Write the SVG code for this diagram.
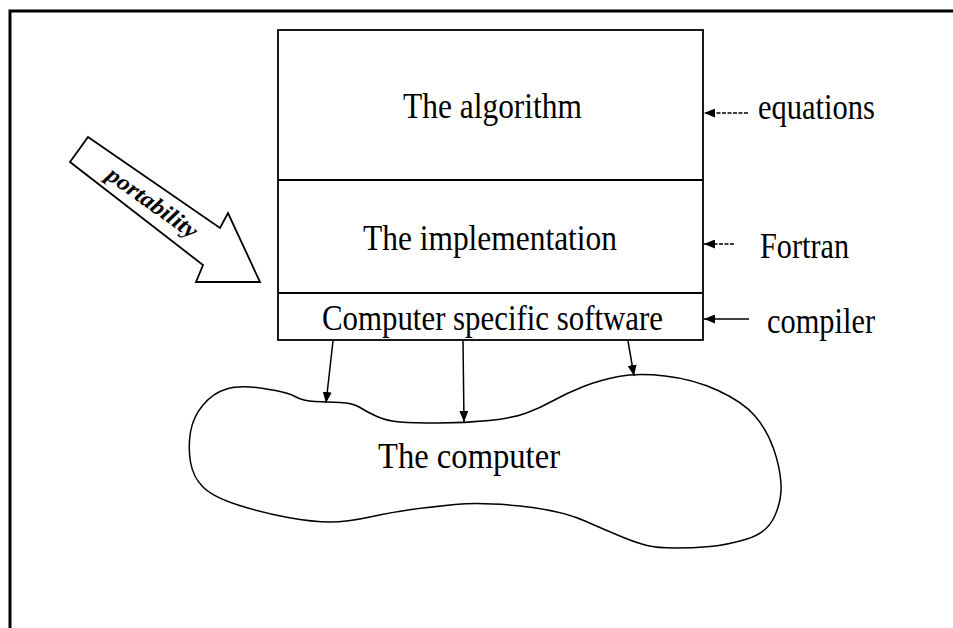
<svg xmlns="http://www.w3.org/2000/svg" width="953" height="628" viewBox="0 0 953 628">
<style>
.t{font-family:"Liberation Serif","Times New Roman",serif;font-size:36px;fill:#000}
.ln{stroke:#000;stroke-width:1.5;fill:none}
.box{stroke:#000;stroke-width:1.8;fill:none}
</style>
<defs>
<marker id="ah" markerUnits="userSpaceOnUse" markerWidth="11" markerHeight="9" refX="11" refY="4.5" orient="auto">
<path d="M0,0 L11,4.5 L0,9 z" fill="#000"/>
</marker>
</defs>
<rect width="953" height="628" fill="#fff"/>
<g id="frame">
<path d="M10,628 L10,11 L953,11" stroke="#000" stroke-width="3" fill="none"/>
</g>
<g id="stack">
<rect x="278" y="30" width="425" height="310" class="box"/>
<line x1="278" y1="180" x2="703" y2="180" class="box"/>
<line x1="278" y1="293" x2="703" y2="293" class="box"/>
</g>
<g id="algorithm"><text class="t" x="403" y="118" textLength="179" lengthAdjust="spacingAndGlyphs">The algorithm</text></g>
<g id="implementation"><text class="t" x="363" y="250" textLength="254" lengthAdjust="spacingAndGlyphs">The implementation</text></g>
<g id="software"><text class="t" x="322" y="330" textLength="341" lengthAdjust="spacingAndGlyphs">Computer specific software</text></g>
<g id="equations"><text class="t" x="758" y="119" textLength="117" lengthAdjust="spacingAndGlyphs">equations</text></g>
<g id="fortran"><text class="t" x="760" y="258" textLength="89" lengthAdjust="spacingAndGlyphs">Fortran</text></g>
<g id="compiler"><text class="t" x="767" y="333" textLength="108" lengthAdjust="spacingAndGlyphs">compiler</text></g>
<g id="computer">
<path class="ln" d="M263.5,388.5 Q287,392 295,396.5 Q303,401 315,401.5 Q327,402 340,402.5 Q353,403 360,407.5 Q367,412 377,416.5 Q387,421 400,422 Q413,423 439,423 Q465,423 489,420.5 Q513,418 526.5,413 Q540,408 553.5,400.5 Q567,393 583.5,386.5 Q600,380 618.5,376.5 Q637,373 665,376 Q693,379 718,390.5 Q743,402 755,416 Q767,430 773.5,448.5 Q780,467 781,483.5 Q782,500 774.5,516.5 Q767,533 747,539 Q727,545 710,546.5 Q693,548 675,548 Q657,548 647,545.5 Q637,543 623.5,537.5 Q610,532 585,521 Q560,510 520,506 Q480,502 455,504.5 Q430,507 411.5,509.5 Q393,512 370,517 Q347,522 330,522 Q313,522 288,517.5 Q263,513 238,505 Q213,497 203,487 Q193,477 190.5,462 Q188,447 190.5,432 Q193,417 203,405 Q213,393 226.5,389 Q240,385 263.5,388.5 Z"/>
<text class="t" x="378" y="468" textLength="182" lengthAdjust="spacingAndGlyphs" font-size="38">The computer</text>
</g>
<g id="portability">
<path d="M88,137 L220,228 L228,213 L260,282 L196,282 L203,265 L70,162 Z" fill="#fff" stroke="#000" stroke-width="1.8" stroke-linejoin="miter"/>
<text x="152" y="210" transform="rotate(35.5 152 203)" text-anchor="middle" font-family="Liberation Serif, serif" font-size="23" font-style="italic" font-weight="bold" textLength="106" lengthAdjust="spacingAndGlyphs">portability</text>
</g>
<g id="connectors">
<line x1="748" y1="113" x2="704" y2="113" class="ln" stroke-dasharray="4 1.5" marker-end="url(#ah)"/>
<line x1="734" y1="244" x2="704" y2="244" class="ln" stroke-dasharray="4 1.5" marker-end="url(#ah)"/>
<line x1="749" y1="319" x2="704" y2="319" class="ln" marker-end="url(#ah)"/>
<line x1="333" y1="341" x2="326" y2="403" class="ln" marker-end="url(#ah)"/>
<line x1="463" y1="341" x2="464" y2="422" class="ln" marker-end="url(#ah)"/>
<line x1="628" y1="341" x2="634" y2="376" class="ln" marker-end="url(#ah)"/>
</g>
</svg>
